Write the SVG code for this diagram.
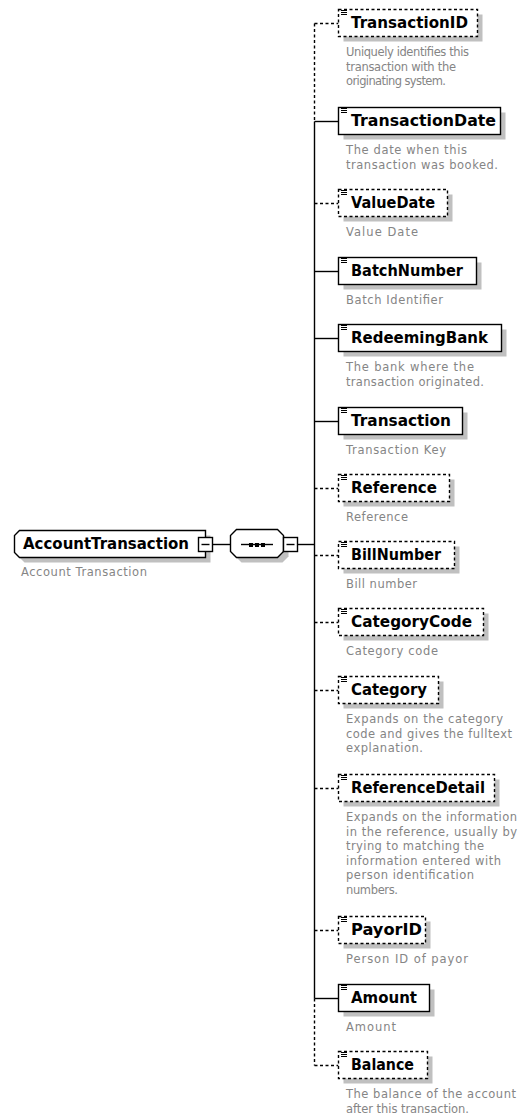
<svg xmlns="http://www.w3.org/2000/svg" width="519" height="1118" viewBox="0 0 519 1118">
<style>
.sh{fill:#c0c0c0;stroke:none}
.bx{fill:#fff;stroke:#000;stroke-width:1.4}
.opt{stroke-dasharray:3 2.5}
.nm{font-family:"DejaVu Sans",sans-serif;font-weight:bold;font-size:15px;fill:#000}
.ds{font-family:"DejaVu Sans",sans-serif;font-size:11.5px;fill:#858585}
.cn{stroke:#000;stroke-width:1.4;fill:none}
.dcn{stroke:#000;stroke-width:1.4;fill:none;stroke-dasharray:3 2.5}
</style>
<defs>
<path id="ic" d="M0 0.5H6M0 2.5H6M0 4.5H6" stroke="#000" stroke-width="1" fill="none"/>
</defs>
<rect width="519" height="1118" fill="#fff"/>
<g id="connectors">
<line class="cn" x1="212.5" y1="544.5" x2="230.5" y2="544.5"/>
<line class="cn" x1="297.5" y1="544.5" x2="314.5" y2="544.5"/>
<line class="dcn" x1="314.5" y1="23.5" x2="314.5" y2="121.5"/>
<line class="cn" x1="314.5" y1="121.5" x2="314.5" y2="998.5"/>
<line class="dcn" x1="314.5" y1="998.5" x2="314.5" y2="1065.5"/>
<line class="dcn" x1="314.5" y1="23.5" x2="338.5" y2="23.5"/>
<line class="cn" x1="314.5" y1="121.5" x2="338.5" y2="121.5"/>
<line class="dcn" x1="314.5" y1="203.5" x2="338.5" y2="203.5"/>
<line class="cn" x1="314.5" y1="271.5" x2="338.5" y2="271.5"/>
<line class="cn" x1="314.5" y1="338.5" x2="338.5" y2="338.5"/>
<line class="cn" x1="314.5" y1="421.5" x2="338.5" y2="421.5"/>
<line class="dcn" x1="314.5" y1="488.5" x2="338.5" y2="488.5"/>
<line class="dcn" x1="314.5" y1="555.5" x2="338.5" y2="555.5"/>
<line class="dcn" x1="314.5" y1="622.5" x2="338.5" y2="622.5"/>
<line class="dcn" x1="314.5" y1="690.5" x2="338.5" y2="690.5"/>
<line class="dcn" x1="314.5" y1="788.5" x2="338.5" y2="788.5"/>
<line class="dcn" x1="314.5" y1="930.5" x2="338.5" y2="930.5"/>
<line class="cn" x1="314.5" y1="998.5" x2="338.5" y2="998.5"/>
<line class="dcn" x1="314.5" y1="1065.5" x2="338.5" y2="1065.5"/>
</g>
<g id="AccountTransaction">
<path class="sh" d="M24.5,535.5 H210.5 V562.5 H24.5 L19.5,557.5 V540.5 Z"/>
<path class="bx" d="M19.5,530.5 H205.5 V557.5 H19.5 L14.5,552.5 V535.5 Z"/>
<rect class="bx" x="198.5" y="537.5" width="14" height="14"/>
<line class="cn" x1="201.5" y1="544.5" x2="209.5" y2="544.5"/>
<text class="nm" x="23" y="549" textLength="166" lengthAdjust="spacingAndGlyphs">AccountTransaction</text>
<text class="ds" x="21" y="576" textLength="126" lengthAdjust="spacing">Account Transaction</text>
</g>
<g id="sequence">
<path class="sh" d="M241.5,534.5 H282.5 L288.5,540.5 V556.5 L282.5,562.5 H241.5 L235.5,556.5 V540.5 Z"/>
<path class="bx" d="M236.5,529.5 H277.5 L283.5,535.5 V551.5 L277.5,557.5 H236.5 L230.5,551.5 V535.5 Z"/>
<line class="cn" x1="241" y1="544.5" x2="273" y2="544.5"/>
<rect x="249" y="543" width="4" height="4" fill="#000"/>
<rect x="255" y="543" width="4" height="4" fill="#000"/>
<rect x="261" y="543" width="4" height="4" fill="#000"/>
<rect class="bx" x="283.5" y="537.5" width="14" height="14"/>
<line class="cn" x1="286.5" y1="544.5" x2="294.5" y2="544.5"/>
</g>
<g id="TransactionID">
<rect class="sh" x="343.5" y="14.5" width="139" height="27"/>
<rect class="bx opt" x="338.5" y="9.5" width="139" height="27"/>
<use href="#ic" x="341" y="10"/>
<text class="nm" x="351" y="28" textLength="117" lengthAdjust="spacingAndGlyphs">TransactionID</text>
<text class="ds" x="346" y="56" textLength="123" lengthAdjust="spacing">Uniquely identifies this</text>
<text class="ds" x="346" y="70.5" textLength="110" lengthAdjust="spacing">transaction with the</text>
<text class="ds" x="346" y="85" textLength="100" lengthAdjust="spacing">originating system.</text>
</g>
<g id="TransactionDate">
<rect class="sh" x="343.5" y="112.5" width="162" height="27"/>
<rect class="bx" x="338.5" y="107.5" width="162" height="27"/>
<use href="#ic" x="341" y="108"/>
<text class="nm" x="351" y="126" textLength="145" lengthAdjust="spacingAndGlyphs">TransactionDate</text>
<text class="ds" x="346" y="154" textLength="121" lengthAdjust="spacing">The date when this</text>
<text class="ds" x="346" y="168.5" textLength="152" lengthAdjust="spacing">transaction was booked.</text>
</g>
<g id="ValueDate">
<rect class="sh" x="343.5" y="194.5" width="109" height="27"/>
<rect class="bx opt" x="338.5" y="189.5" width="109" height="27"/>
<use href="#ic" x="341" y="190"/>
<text class="nm" x="351" y="208" textLength="84" lengthAdjust="spacingAndGlyphs">ValueDate</text>
<text class="ds" x="346" y="236" textLength="72" lengthAdjust="spacing">Value Date</text>
</g>
<g id="BatchNumber">
<rect class="sh" x="343.5" y="262.5" width="138" height="27"/>
<rect class="bx" x="338.5" y="257.5" width="138" height="27"/>
<use href="#ic" x="341" y="258"/>
<text class="nm" x="351" y="276" textLength="112" lengthAdjust="spacingAndGlyphs">BatchNumber</text>
<text class="ds" x="346" y="304" textLength="97" lengthAdjust="spacing">Batch Identifier</text>
</g>
<g id="RedeemingBank">
<rect class="sh" x="343.5" y="329.5" width="163" height="27"/>
<rect class="bx" x="338.5" y="324.5" width="163" height="27"/>
<use href="#ic" x="341" y="325"/>
<text class="nm" x="351" y="343" textLength="137" lengthAdjust="spacingAndGlyphs">RedeemingBank</text>
<text class="ds" x="346" y="371" textLength="128" lengthAdjust="spacing">The bank where the</text>
<text class="ds" x="346" y="385.5" textLength="138" lengthAdjust="spacing">transaction originated.</text>
</g>
<g id="Transaction">
<rect class="sh" x="343.5" y="412.5" width="124" height="27"/>
<rect class="bx" x="338.5" y="407.5" width="124" height="27"/>
<use href="#ic" x="341" y="408"/>
<text class="nm" x="351" y="426" textLength="100" lengthAdjust="spacingAndGlyphs">Transaction</text>
<text class="ds" x="346" y="454" textLength="100" lengthAdjust="spacing">Transaction Key</text>
</g>
<g id="Reference">
<rect class="sh" x="343.5" y="479.5" width="111" height="27"/>
<rect class="bx opt" x="338.5" y="474.5" width="111" height="27"/>
<use href="#ic" x="341" y="475"/>
<text class="nm" x="351" y="493" textLength="86" lengthAdjust="spacingAndGlyphs">Reference</text>
<text class="ds" x="346" y="521" textLength="62" lengthAdjust="spacing">Reference</text>
</g>
<g id="BillNumber">
<rect class="sh" x="343.5" y="546.5" width="116" height="27"/>
<rect class="bx opt" x="338.5" y="541.5" width="116" height="27"/>
<use href="#ic" x="341" y="542"/>
<text class="nm" x="351" y="560" textLength="90" lengthAdjust="spacingAndGlyphs">BillNumber</text>
<text class="ds" x="346" y="588" textLength="71" lengthAdjust="spacing">Bill number</text>
</g>
<g id="CategoryCode">
<rect class="sh" x="343.5" y="613.5" width="145" height="27"/>
<rect class="bx opt" x="338.5" y="608.5" width="145" height="27"/>
<use href="#ic" x="341" y="609"/>
<text class="nm" x="351" y="627" textLength="121" lengthAdjust="spacingAndGlyphs">CategoryCode</text>
<text class="ds" x="346" y="655" textLength="92" lengthAdjust="spacing">Category code</text>
</g>
<g id="Category">
<rect class="sh" x="343.5" y="681.5" width="100" height="27"/>
<rect class="bx opt" x="338.5" y="676.5" width="100" height="27"/>
<use href="#ic" x="341" y="677"/>
<text class="nm" x="351" y="695" textLength="76" lengthAdjust="spacingAndGlyphs">Category</text>
<text class="ds" x="346" y="723" textLength="157" lengthAdjust="spacing">Expands on the category</text>
<text class="ds" x="346" y="737.5" textLength="166" lengthAdjust="spacing">code and gives the fulltext</text>
<text class="ds" x="346" y="752" textLength="77" lengthAdjust="spacing">explanation.</text>
</g>
<g id="ReferenceDetail">
<rect class="sh" x="343.5" y="779.5" width="156" height="27"/>
<rect class="bx opt" x="338.5" y="774.5" width="156" height="27"/>
<use href="#ic" x="341" y="775"/>
<text class="nm" x="351" y="793" textLength="134" lengthAdjust="spacingAndGlyphs">ReferenceDetail</text>
<text class="ds" x="346" y="821" textLength="171" lengthAdjust="spacing">Expands on the information</text>
<text class="ds" x="346" y="835.5" textLength="171" lengthAdjust="spacing">in the reference, usually by</text>
<text class="ds" x="346" y="850" textLength="138" lengthAdjust="spacing">trying to matching the</text>
<text class="ds" x="346" y="864.5" textLength="155" lengthAdjust="spacing">information entered with</text>
<text class="ds" x="346" y="879" textLength="128" lengthAdjust="spacing">person identification</text>
<text class="ds" x="346" y="893.5" textLength="52" lengthAdjust="spacing">numbers.</text>
</g>
<g id="PayorID">
<rect class="sh" x="343.5" y="921.5" width="87" height="27"/>
<rect class="bx opt" x="338.5" y="916.5" width="87" height="27"/>
<use href="#ic" x="341" y="917"/>
<text class="nm" x="351" y="935" textLength="71" lengthAdjust="spacingAndGlyphs">PayorID</text>
<text class="ds" x="346" y="963" textLength="122" lengthAdjust="spacing">Person ID of payor</text>
</g>
<g id="Amount">
<rect class="sh" x="343.5" y="989.5" width="91" height="27"/>
<rect class="bx" x="338.5" y="984.5" width="91" height="27"/>
<use href="#ic" x="341" y="985"/>
<text class="nm" x="351" y="1003" textLength="66" lengthAdjust="spacingAndGlyphs">Amount</text>
<text class="ds" x="346" y="1031" textLength="50" lengthAdjust="spacing">Amount</text>
</g>
<g id="Balance">
<rect class="sh" x="343.5" y="1056.5" width="89" height="27"/>
<rect class="bx opt" x="338.5" y="1051.5" width="89" height="27"/>
<use href="#ic" x="341" y="1052"/>
<text class="nm" x="351" y="1070" textLength="63" lengthAdjust="spacingAndGlyphs">Balance</text>
<text class="ds" x="346" y="1098" textLength="170" lengthAdjust="spacing">The balance of the account</text>
<text class="ds" x="346" y="1112.5" textLength="123" lengthAdjust="spacing">after this transaction.</text>
</g>
</svg>
